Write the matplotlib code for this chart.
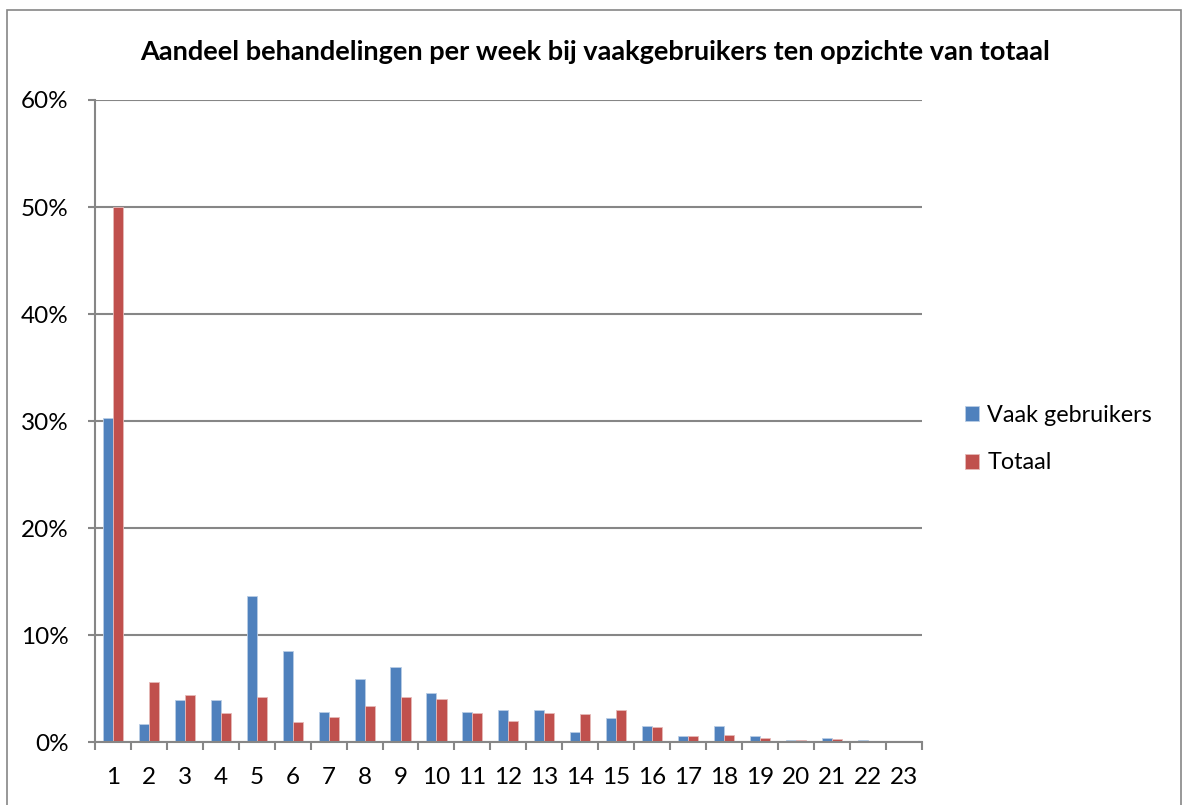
import numpy as np
import matplotlib.pyplot as plt
from matplotlib.patches import Rectangle
from matplotlib.ticker import FuncFormatter

plt.rcParams['font.family'] = ['Lato', 'DejaVu Sans']

weken = [str(i) for i in range(1, 24)]
vaak = [30.3, 1.7, 3.9, 3.9, 13.6, 8.5, 2.8, 5.9, 7.0, 4.6, 2.8, 3.0,
        3.0, 0.9, 2.2, 1.5, 0.6, 1.5, 0.6, 0.2, 0.4, 0.2, 0.0]
totaal = [50.0, 5.6, 4.4, 2.7, 4.2, 1.9, 2.3, 3.4, 4.2, 4.0, 2.7, 2.0,
          2.7, 2.6, 3.0, 1.4, 0.6, 0.7, 0.4, 0.15, 0.25, 0.0, 0.0]

blauw = '#4F81BD'
rood = '#C0504D'
grijs = '#868686'

fig = plt.figure(figsize=(11.84, 8.05), dpi=100)
fig.patches.append(Rectangle((7/1184, -0.05), (1181-7)/1184, 1.05 - 10/805,
                             transform=fig.transFigure, fill=False,
                             edgecolor=grijs, linewidth=1.2))

ax = fig.add_axes([95/1184, 1-742/805, (921.7-95)/1184, (742-100)/805])
x = np.arange(len(weken))
w = 0.28
ax.bar(x - w/2, vaak, w, color=blauw, edgecolor='#b9cde5', linewidth=0.6,
       label='Vaak gebruikers', zorder=3)
ax.bar(x + w/2, totaal, w, color=rood, edgecolor='#e6b9b8', linewidth=0.6,
       label='Totaal', zorder=3)

ax.set_xlim(-0.5, len(weken) - 0.5)
ax.set_ylim(0, 60)
ax.set_yticks(np.arange(0, 61, 10))
ax.yaxis.set_major_formatter(FuncFormatter(lambda v, p: f"{int(v)}%"))
ax.set_xticks(x)
ax.set_xticklabels(weken)
ax.set_xticks(np.arange(-0.5, len(weken)), minor=True)
ax.tick_params(axis='x', which='major', length=0, pad=18, labelsize=17.5)
ax.tick_params(axis='x', which='minor', length=6, width=1.5, color=grijs)
ax.tick_params(axis='y', length=5, width=1.5, color=grijs, pad=14, labelsize=17.5)
ax.grid(axis='y', color=grijs, linewidth=1.5, zorder=0)

for s in ['top', 'right']:
    ax.spines[s].set_visible(False)
for s in ['left', 'bottom']:
    ax.spines[s].set_color(grijs)
    ax.spines[s].set_linewidth(1.5)
ax.spines['bottom'].set_zorder(4)

fig.text(0.5025, 1-52/805, 'Aandeel behandelingen per week bij vaakgebruikers ten opzichte van totaal',
         ha='center', va='center', fontsize=19.5, fontweight='bold')

fig.legend(loc='center left', bbox_to_anchor=(944/1184, 1-439/805), frameon=False,
           fontsize=16.8, handlelength=0.6, handleheight=0.6, handletextpad=0.35,
           labelspacing=1.15)

fig.savefig('out.png', dpi=100)
